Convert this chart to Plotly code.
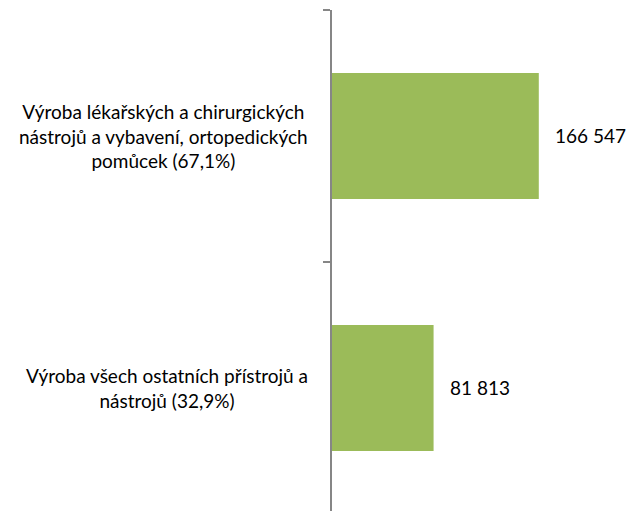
import plotly.graph_objects as go

categories = [
    "Výroba lékařských a chirurgických<br>nástrojů a vybavení, ortopedických<br>pomůcek (67,1%)",
    "Výroba všech ostatních přístrojů a<br>nástrojů (32,9%)",
]
values = [166547, 81813]
value_labels = ["166 547", "81 813"]

font_family = "Lato"

fig = go.Figure()
fig.add_trace(go.Bar(
    y=categories,
    x=values,
    orientation="h",
    marker=dict(color="#9BBB59", line=dict(width=0)),
    width=0.5,
    hoverinfo="skip",
))

annotations = []
for cat, v, lab in zip(categories, values, value_labels):
    annotations.append(dict(
        x=0, xref="paper", y=cat, yref="y", text=cat,
        xanchor="right", yanchor="middle", align="center",
        xshift=-22, showarrow=False,
        font=dict(family=font_family, size=19, color="#000000"),
    ))
    annotations.append(dict(
        x=v, xref="x", y=cat, yref="y", text=lab,
        xanchor="left", yanchor="middle", xshift=14, showarrow=False,
        font=dict(family=font_family, size=19, color="#000000"),
    ))

fig.update_layout(
    width=637, height=511,
    margin=dict(l=324, r=15, t=2, b=0),
    paper_bgcolor="white", plot_bgcolor="white",
    showlegend=False,
    annotations=annotations,
    xaxis=dict(range=[0, 240000], visible=False, showgrid=False, zeroline=False),
    yaxis=dict(
        type="category",
        range=[1.52, -0.5],
        showline=True, linecolor="#868686", linewidth=2,
        ticks="outside", tickson="boundaries", ticklen=7, tickwidth=2, tickcolor="#868686",
        showticklabels=False, showgrid=False, zeroline=False,
    ),
)

fig.write_html("out.html")
